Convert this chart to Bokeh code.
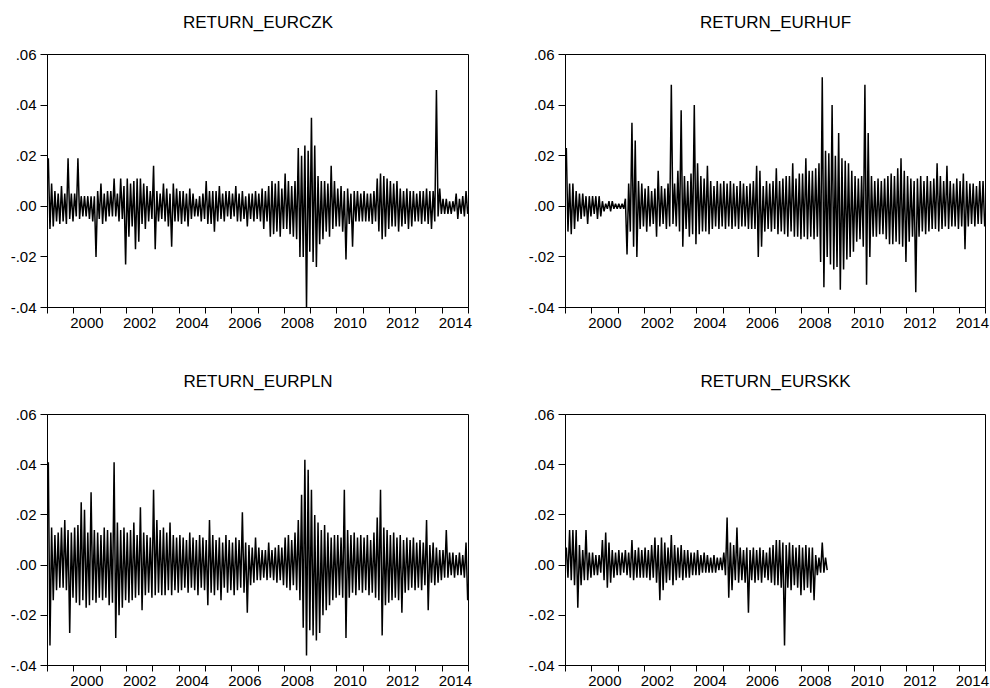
from bokeh.plotting import figure
from bokeh.models import Range1d, FixedTicker, CustomJSTickFormatter, LinearAxis
from bokeh.layouts import column, row
from bokeh.embed import file_html
from bokeh.resources import INLINE

# ---------------- data ----------------
# Daily returns summarised as the highest and lowest value seen in each
# 1/8-year bin, starting at 1999.0.  Values are in thousandths (x 0.001).
START_YEAR = 1999
BINS_PER_YEAR = 8
UNIT = 0.001

titles = ["RETURN_EURCZK", "RETURN_EURHUF", "RETURN_EURPLN", "RETURN_EURSKK"]

czk_high = [
    19, 9, 6, 5, 8, 5, 19, 5,        # 1999
    5, 19, 4, 4, 4, 4, 4, 6,         # 2000
    9, 5, 6, 6, 11, 5, 11, 8,        # 2001
    11, 9, 10, 11, 11, 9, 8, 6,      # 2002
    16, 6, 5, 9, 7, 5, 9, 7,         # 2003
    6, 6, 5, 7, 5, 3, 4, 5,          # 2004
    10, 6, 6, 6, 8, 5, 6, 6,         # 2005
    5, 8, 5, 6, 4, 5, 5, 6,          # 2006
    5, 7, 6, 8, 10, 9, 10, 7,        # 2007
    13, 10, 8, 10, 23, 20, 24, 22,   # 2008
    35, 24, 12, 10, 10, 9, 16, 10,   # 2009
    7, 8, 6, 7, 5, 6, 6, 5,          # 2010
    6, 5, 5, 6, 11, 13, 12, 11,      # 2011
    10, 9, 10, 7, 6, 7, 6, 6,        # 2012
    5, 6, 6, 7, 6, 6, 46, 7,         # 2013
    3, 3, 2, 2, 5, 3, 4, 6,          # 2014
]
czk_low = [
    -9, -8, -6, -7, -6, -7, -5, -6,
    -4, -5, -4, -4, -5, -6, -20, -5,
    -7, -6, -4, -4, -4, -6, -5, -23,
    -12, -8, -17, -14, -7, -9, -6, -5,
    -17, -6, -5, -6, -8, -16, -6, -6,
    -7, -6, -8, -5, -4, -4, -6, -5,
    -7, -7, -10, -6, -5, -6, -4, -5,
    -4, -6, -6, -5, -8, -5, -6, -5,
    -6, -9, -6, -12, -11, -10, -12, -9,
    -9, -11, -12, -13, -20, -20, -40, -18,
    -22, -24, -15, -13, -10, -12, -9, -8,
    -8, -10, -21, -7, -16, -6, -6, -6,
    -6, -6, -7, -6, -10, -13, -12, -9,
    -8, -8, -10, -8, -7, -9, -8, -6,
    -6, -7, -6, -7, -9, -6, -4, -3,
    -3, -3, -3, -2, -5, -3, -4, -3,
]

huf_high = [
    23, 9, 9, 6, 5, 5, 4, 4,
    4, 4, 4, 2, 1, 2, 2, 1,
    1, 1, 3, 9, 33, 26, 10, 9,
    7, 8, 6, 7, 14, 8, 7, 9,
    48, 9, 14, 38, 12, 10, 13, 40,
    17, 12, 11, 16, 10, 8, 10, 9,
    10, 9, 10, 9, 8, 10, 9, 8,
    9, 10, 16, 14, 8, 10, 9, 10,
    15, 10, 11, 12, 12, 17, 11, 13,
    13, 19, 14, 14, 15, 17, 51, 22,
    21, 40, 20, 29, 19, 18, 17, 14,
    12, 11, 12, 48, 29, 12, 10, 11,
    10, 11, 12, 13, 12, 15, 19, 14,
    12, 11, 10, 11, 12, 10, 12, 10,
    11, 17, 12, 10, 16, 10, 9, 11,
    10, 13, 10, 9, 9, 8, 10, 10,
]
huf_low = [
    -10, -11, -9, -6, -5, -4, -7, -4,
    -3, -5, -4, -2, -1, -2, -1, -1,
    -1, -1, -19, -10, -16, -20, -9, -8,
    -10, -8, -7, -12, -8, -7, -9, -8,
    -7, -8, -10, -16, -9, -12, -11, -15,
    -11, -10, -10, -11, -9, -8, -9, -8,
    -9, -8, -9, -8, -9, -8, -8, -9,
    -9, -9, -20, -16, -10, -9, -10, -9,
    -11, -10, -11, -12, -10, -12, -12, -13,
    -12, -13, -12, -13, -12, -22, -32, -20,
    -23, -25, -24, -33, -25, -21, -20, -18,
    -14, -13, -16, -31, -20, -12, -12, -11,
    -11, -13, -15, -15, -14, -15, -16, -22,
    -14, -12, -34, -12, -10, -11, -10, -9,
    -9, -10, -9, -8, -9, -8, -8, -9,
    -8, -17, -8, -7, -8, -7, -7, -8,
]

pln_high = [
    41, 15, 12, 13, 15, 18, 14, 13,
    15, 16, 25, 22, 13, 29, 14, 13,
    12, 15, 14, 13, 41, 17, 14, 15,
    13, 14, 17, 12, 23, 13, 12, 11,
    30, 18, 14, 15, 13, 17, 12, 11,
    12, 11, 10, 13, 11, 10, 12, 11,
    10, 18, 12, 10, 11, 9, 12, 10,
    9, 11, 10, 21, 9, 8, 7, 11,
    7, 6, 6, 9, 6, 7, 8, 7,
    11, 12, 10, 13, 18, 28, 42, 38,
    30, 20, 17, 14, 16, 13, 11, 12,
    12, 11, 30, 14, 12, 13, 11, 12,
    11, 12, 10, 13, 19, 30, 15, 14,
    12, 13, 11, 12, 10, 11, 10, 11,
    9, 10, 9, 18, 8, 9, 7, 6,
    6, 14, 5, 5, 4, 5, 4, 9,
]
pln_low = [
    -32, -14, -10, -9, -9, -10, -27, -13,
    -15, -16, -14, -17, -16, -14, -15, -13,
    -14, -13, -16, -15, -29, -20, -17, -14,
    -15, -14, -13, -12, -18, -12, -11, -13,
    -12, -11, -12, -12, -10, -12, -10, -11,
    -10, -9, -11, -9, -10, -12, -9, -10,
    -16, -11, -12, -10, -14, -9, -11, -10,
    -12, -10, -9, -11, -19, -8, -7, -6,
    -6, -5, -6, -5, -6, -7, -6, -8,
    -9, -10, -8, -10, -14, -25, -36, -26,
    -28, -30, -27, -20, -18, -16, -14, -13,
    -12, -13, -29, -13, -11, -12, -10, -11,
    -10, -12, -11, -13, -14, -28, -16, -15,
    -14, -13, -14, -19, -11, -10, -9, -10,
    -9, -10, -8, -18, -7, -8, -7, -6,
    -5, -5, -4, -5, -4, -4, -5, -14,
]

skk_high = [
    7, 14, 14, 14, 8, 6, 14, 5,
    5, 4, 4, 10, 13, 9, 6, 5,
    6, 5, 6, 5, 10, 6, 7, 6,
    7, 6, 8, 11, 8, 11, 9, 7,
    12, 8, 7, 8, 6, 6, 5, 5,
    6, 4, 5, 4, 3, 4, 3, 3,
    5, 19, 9, 8, 15, 7, 6, 7,
    6, 7, 6, 7, 6, 5, 7, 8,
    10, 10, 9, 8, 9, 8, 7, 8,
    7, 8, 7, 7, 4, 3, 9, 3,
]
skk_low = [
    -5, -6, -8, -17, -8, -6, -6, -5,
    -4, -4, -3, -6, -9, -7, -5, -4,
    -4, -3, -4, -5, -6, -5, -5, -5,
    -5, -6, -5, -7, -14, -10, -7, -6,
    -8, -6, -5, -6, -5, -5, -4, -4,
    -4, -3, -3, -3, -3, -3, -2, -2,
    -4, -13, -10, -6, -7, -6, -7, -19,
    -6, -7, -6, -7, -5, -6, -7, -8,
    -8, -9, -32, -9, -10, -8, -9, -12,
    -10, -9, -11, -14, -4, -3, -3, -2,
]

year_ticks = list(range(1999, 2016))
year_labels = [2000, 2002, 2004, 2006, 2008, 2010, 2012, 2014]
y_ticks = [-0.04, -0.02, 0.0, 0.02, 0.04, 0.06]

FONT = "Liberation Sans"


def series_xy(high, low):
    xs, ys = [], []
    for k, (h, l) in enumerate(zip(high, low)):
        x0 = START_YEAR + k / BINS_PER_YEAR
        xs += [x0 + 0.25 / BINS_PER_YEAR, x0 + 0.75 / BINS_PER_YEAR]
        ys += [h * UNIT, l * UNIT]
    return xs, ys


def make_panel(title, high, low, width, height, left, right, top, bottom,
               xstand, title_stand):
    p = figure(width=width, height=height, output_backend="svg",
               toolbar_location=None,
               x_range=Range1d(year_ticks[0], year_ticks[-1]),
               y_range=Range1d(y_ticks[0], y_ticks[-1]),
               min_border_left=left, min_border_right=right,
               min_border_top=top, min_border_bottom=bottom,
               background_fill_color="white", border_fill_color="white")
    p.grid.visible = False
    p.outline_line_color = "black"
    p.outline_line_width = 1

    # bottom year axis (configured before the title axis is added)
    xa = p.below[0]
    xa.ticker = FixedTicker(ticks=[y + 0.5 for y in year_labels],
                            minor_ticks=year_ticks)
    xa.formatter = CustomJSTickFormatter(code="return String(Math.floor(tick));")
    xa.major_tick_in = 0
    xa.major_tick_out = 0
    xa.minor_tick_in = 0
    xa.minor_tick_out = 6
    xa.minor_tick_line_color = "black"
    xa.axis_line_color = "black"
    xa.major_label_standoff = xstand
    xa.major_label_text_font = FONT
    xa.major_label_text_font_size = "15px"
    xa.major_label_text_color = "black"

    ya = p.left[0]
    ya.ticker = FixedTicker(ticks=y_ticks, minor_ticks=[])
    ya.formatter = CustomJSTickFormatter(
        code="return tick.toFixed(2).replace('0.', '.');")
    ya.major_tick_in = 0
    ya.major_tick_out = 7
    ya.major_tick_line_color = "black"
    ya.axis_line_color = "black"
    ya.major_label_standoff = 4
    ya.major_label_text_font = FONT
    ya.major_label_text_font_size = "15px"
    ya.major_label_text_color = "black"

    # panel title drawn as the label of an empty axis above the frame
    tax = LinearAxis(axis_label=title, ticker=FixedTicker(ticks=[], minor_ticks=[]),
                     major_tick_in=0, major_tick_out=0,
                     minor_tick_in=0, minor_tick_out=0,
                     major_label_standoff=0,
                     major_label_text_font_size="0px",
                     axis_line_color=None,
                     axis_label_standoff=title_stand,
                     axis_label_text_font=FONT,
                     axis_label_text_font_size="17px",
                     axis_label_text_font_style="normal",
                     axis_label_text_color="black")
    p.add_layout(tax, "above")

    xs, ys = series_xy(high, low)
    p.line(xs, ys, line_color="black", line_width=1.5)
    return p


p1 = make_panel(titles[0], czk_high, czk_low, 508, 360, 47, 40, 54, 53, 4, 23)
p2 = make_panel(titles[1], huf_high, huf_low, 482, 360, 57, 5, 54, 53, 4, 23)
p3 = make_panel(titles[2], pln_high, pln_low, 508, 328, 47, 40, 54, 21, 4, 24)
p4 = make_panel(titles[3], skk_high, skk_low, 482, 328, 57, 5, 54, 21, 4, 24)

layout = column(row(p1, p2), row(p3, p4))

open("out.html", "w").write(file_html(layout, INLINE))
